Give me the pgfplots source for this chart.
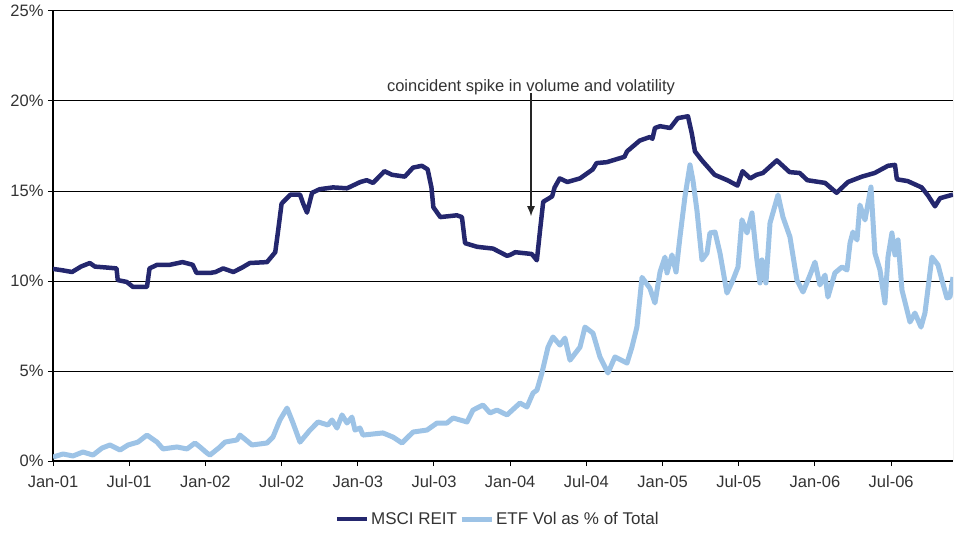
\documentclass[border=0pt]{standalone}
\usepackage{pgfplots}
\pgfplotsset{compat=1.18}
\usepackage{fontspec}
\setmainfont{Liberation Sans}
\usetikzlibrary{arrows.meta}
\definecolor{reit}{RGB}{36,39,110}
\definecolor{etf}{RGB}{157,195,230}
\definecolor{txt}{RGB}{51,51,51}
\begin{document}
\begin{tikzpicture}
\begin{axis}[
  scale only axis,
  width=900pt, height=450pt,
  xmin=0, xmax=70.87,
  ymin=0, ymax=25,
  axis x line*=bottom, axis y line*=left,
  axis line style={line width=1.3pt, black, -},
  xtick={0,6,...,66},
  xticklabels={Jan-01,Jul-01,Jan-02,Jul-02,Jan-03,Jul-03,Jan-04,Jul-04,Jan-05,Jul-05,Jan-06,Jul-06},
  ytick={0,5,...,25},
  yticklabels={0\%,5\%,10\%,15\%,20\%,25\%},
  tick align=outside,
  major tick length=5pt,
  tick style={line width=1pt, black},
  ymajorgrids,
  grid style={line width=1pt, black},
  /pgf/number format/assume math mode=true,
  ticklabel style={font=\fontsize{16.5}{19}\selectfont, text=txt},
  xticklabel style={yshift=-6pt},
  yticklabel style={xshift=-1pt},
  legend style={at={(0.494,-0.129)}, anchor=center, draw=none, fill=none,
    font=\fontsize{17}{20}\selectfont, text=txt, legend columns=2,
    /tikz/every even column/.append style={column sep=0pt},
    inner sep=0pt},
  legend image code/.code={\draw[#1] (0pt,0pt) -- (30pt,0pt);},
  legend cell align=left,
]
\addplot[reit, line width=4.5pt, line join=round] coordinates {
(0,10.67)(0.7,10.6)(1.5,10.5)(2.2,10.8)(2.9,11.0)(3.3,10.8)(4.2,10.75)(5.0,10.7)(5.1,10.05)(5.8,9.95)(6.3,9.67)(7.4,9.67)(7.6,10.7)(8.2,10.9)(9.2,10.9)(10.2,11.05)(11.0,10.9)(11.3,10.45)(12.4,10.45)(12.8,10.5)(13.4,10.7)(14.2,10.5)(14.9,10.75)(15.5,11.0)(16.85,11.05)(17.5,11.6)(17.7,12.65)(18.0,14.3)(18.7,14.8)(19.45,14.8)(19.7,14.3)(20.0,13.8)(20.4,14.9)(21.0,15.1)(22.05,15.2)(23.15,15.15)(24.2,15.5)(24.7,15.6)(25.2,15.45)(26.1,16.1)(26.7,15.9)(27.7,15.8)(28.35,16.3)(29.05,16.4)(29.5,16.2)(29.8,15.2)(29.95,14.1)(30.5,13.55)(31.8,13.65)(32.2,13.55)(32.45,12.1)(33.4,11.9)(34.65,11.8)(35.2,11.6)(35.75,11.4)(36.0,11.45)(36.4,11.6)(37.7,11.5)(38.1,11.15)(38.35,12.8)(38.6,14.4)(39.3,14.7)(39.5,15.2)(39.9,15.7)(40.5,15.5)(41.5,15.7)(42.5,16.2)(42.8,16.55)(43.6,16.6)(45.0,16.9)(45.2,17.2)(46.2,17.8)(47.0,18.0)(47.2,17.9)(47.4,18.5)(47.8,18.6)(48.6,18.5)(49.2,19.05)(50.0,19.15)(50.3,18.2)(50.55,17.2)(51.1,16.7)(51.6,16.3)(52.1,15.9)(53.1,15.6)(53.9,15.3)(54.3,16.1)(54.9,15.7)(55.4,15.9)(55.9,16.0)(57.0,16.7)(58.0,16.05)(58.8,16.0)(59.4,15.6)(60.8,15.45)(61.7,14.9)(62.6,15.5)(63.7,15.8)(64.7,16.0)(65.75,16.4)(66.3,16.45)(66.45,15.65)(67.3,15.55)(68.4,15.2)(68.9,14.75)(69.45,14.15)(69.85,14.6)(70.87,14.8)
};
\addlegendentry{MSCI REIT}
\addplot[etf, line width=5pt, line join=round] coordinates {
(0,0.22)(0.79,0.39)(1.57,0.28)(2.36,0.5)(3.15,0.33)(3.86,0.72)(4.49,0.89)(5.28,0.61)(5.91,0.89)(6.69,1.05)(7.40,1.44)(8.19,1.05)(8.66,0.67)(9.76,0.78)(10.55,0.67)(11.18,1.0)(11.57,0.78)(12.13,0.44)(12.36,0.33)(13.15,0.78)(13.54,1.05)(14.49,1.17)(14.72,1.44)(15.67,0.89)(16.85,1.0)(17.32,1.33)(17.87,2.28)(18.43,2.94)(18.90,2.11)(19.45,1.05)(20.24,1.72)(20.87,2.17)(21.65,2.0)(21.97,2.28)(22.36,1.83)(22.76,2.56)(23.15,2.11)(23.54,2.44)(23.78,1.72)(24.17,1.83)(24.41,1.44)(25.98,1.56)(26.77,1.33)(27.48,1.0)(28.35,1.61)(29.45,1.72)(30.24,2.11)(31.02,2.11)(31.50,2.39)(32.60,2.17)(33.07,2.83)(33.86,3.11)(34.41,2.67)(34.96,2.83)(35.75,2.56)(36.77,3.22)(37.32,3.0)(37.80,3.78)(38.11,3.94)(38.50,4.89)(38.98,6.33)(39.37,6.89)(39.92,6.44)(40.31,6.83)(40.71,5.6)(41.50,6.33)(41.89,7.44)(42.52,7.1)(43.07,5.78)(43.70,4.89)(44.25,5.78)(45.20,5.44)(45.59,6.33)(45.98,7.44)(46.38,10.2)(47.0,9.6)(47.40,8.78)(47.80,10.5)(48.19,11.33)(48.35,10.45)(48.74,11.45)(49.06,10.5)(49.37,12.45)(49.76,14.67)(50.16,16.45)(50.39,15.6)(50.71,13.9)(51.10,11.17)(51.50,11.55)(51.73,12.67)(52.13,12.72)(52.52,11.55)(53.07,9.33)(53.54,10.05)(53.94,10.78)(54.25,13.4)(54.65,12.67)(55.04,13.78)(55.43,11.17)(55.67,9.89)(55.83,11.17)(56.14,9.89)(56.46,13.22)(57.09,14.78)(57.48,13.55)(58.03,12.45)(58.58,10.05)(59.06,9.39)(59.61,10.33)(60.0,11.05)(60.39,9.78)(60.79,10.33)(61.02,9.11)(61.57,10.45)(62.13,10.78)(62.52,10.61)(62.76,12.11)(62.99,12.72)(63.31,12.28)(63.54,14.22)(63.94,13.39)(64.41,15.22)(64.72,11.55)(65.12,10.61)(65.51,8.78)(65.75,11.33)(66.06,12.67)(66.30,11.45)(66.54,12.28)(66.85,9.5)(67.48,7.72)(67.87,8.22)(68.35,7.44)(68.66,8.22)(69.21,11.33)(69.69,10.89)(70.0,10.05)(70.39,9.06)(70.63,9.11)(70.87,10.22)
};
\addlegendentry{ETF Vol as \% of Total}
\draw[line width=1.3pt, black!85, -{Latex[length=10pt,width=8pt]}] (axis cs:37.64,20.45) -- (axis cs:37.64,13.6);
\node[font=\fontsize{16.5}{19}\selectfont, text=txt, anchor=base] at (axis cs:37.64,20.55) {coincident spike in volume and volatility};
\draw[black!35, line width=1pt] (rel axis cs:1,0) -- (rel axis cs:1,1);
\end{axis}
\path[use as bounding box] ([shift={(-53pt,-72pt)}]current axis.south west) rectangle ([shift={(1pt,11pt)}]current axis.north east);
\end{tikzpicture}
\end{document}
